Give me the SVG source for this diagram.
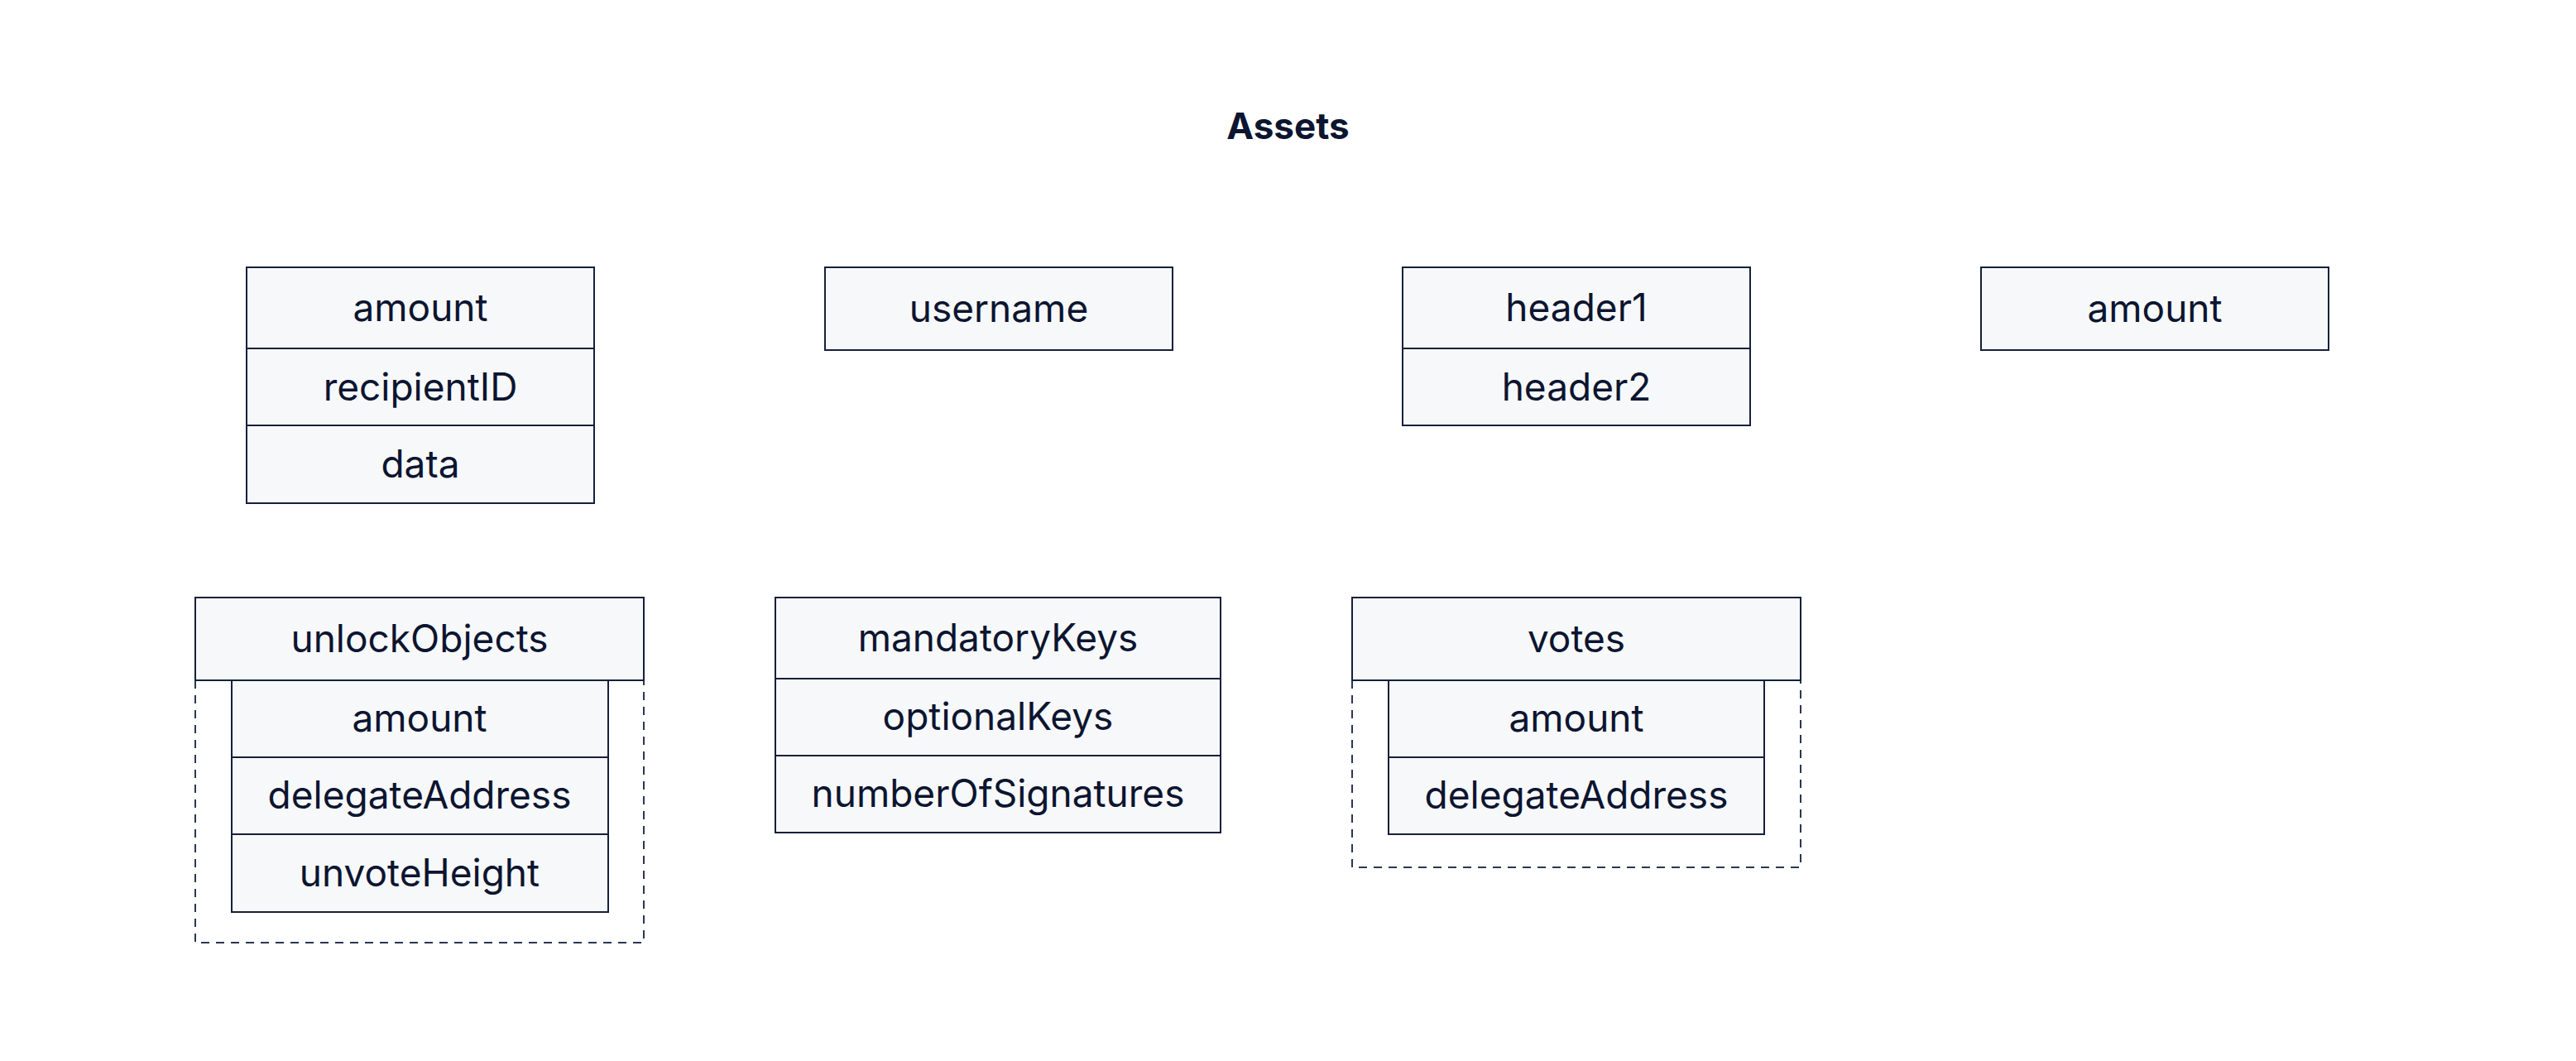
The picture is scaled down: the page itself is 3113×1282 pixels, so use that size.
<svg xmlns="http://www.w3.org/2000/svg" width="3113" height="1282" viewBox="0 0 3113 1282">
<style>
.cell{fill:#F7F8FA;stroke:#15203A;stroke-width:2}
.dash{fill:none;stroke:#2B3652;stroke-width:2;stroke-dasharray:10 8}
.t{font-family:Inter,"Noto Sans","Liberation Sans",sans-serif;font-size:46px;fill:#0C1530;text-anchor:middle}
.title{font-family:Inter,"Noto Sans","Liberation Sans",sans-serif;font-size:44px;font-weight:700;fill:#0C1530;text-anchor:middle}
</style>
<rect width="3113" height="1282" fill="#FFFFFF"/>
<text class="title" x="1556.5" y="168">Assets</text>
<g id="connectors"></g>
<g id="transfer">
<rect class="cell" x="298" y="323" width="420" height="98"/>
<rect class="cell" x="298" y="421" width="420" height="93"/>
<rect class="cell" x="298" y="514" width="420" height="94"/>
<text class="t" x="508" y="388">amount</text>
<text class="t" x="508" y="484">recipientID</text>
<text class="t" x="508" y="577">data</text>
</g>
<g id="username">
<rect class="cell" x="997" y="323" width="420" height="100"/>
<text class="t" x="1207" y="389">username</text>
</g>
<g id="headers">
<rect class="cell" x="1695" y="323" width="420" height="98"/>
<rect class="cell" x="1695" y="421" width="420" height="93"/>
<text class="t" x="1905" y="388">header1</text>
<text class="t" x="1905" y="484">header2</text>
</g>
<g id="amount2">
<rect class="cell" x="2394" y="323" width="420" height="100"/>
<text class="t" x="2604" y="389">amount</text>
</g>
<g id="unlockObjects">
<path class="dash" d="M236,822 V1139 H778 V822"/>
<rect class="cell" x="280" y="822" width="455" height="93"/>
<rect class="cell" x="280" y="915" width="455" height="93"/>
<rect class="cell" x="280" y="1008" width="455" height="94"/>
<rect class="cell" x="236" y="722" width="542" height="100"/>
<text class="t" x="507" y="788">unlockObjects</text>
<text class="t" x="507" y="884">amount</text>
<text class="t" x="507" y="977">delegateAddress</text>
<text class="t" x="507" y="1071">unvoteHeight</text>
</g>
<g id="multisig">
<rect class="cell" x="937" y="722" width="538" height="98"/>
<rect class="cell" x="937" y="820" width="538" height="93"/>
<rect class="cell" x="937" y="913" width="538" height="93"/>
<text class="t" x="1206" y="787">mandatoryKeys</text>
<text class="t" x="1206" y="882">optionalKeys</text>
<text class="t" x="1206" y="975">numberOfSignatures</text>
</g>
<g id="votes">
<path class="dash" d="M1634,822 V1048 H2176 V822"/>
<rect class="cell" x="1678" y="822" width="454" height="93"/>
<rect class="cell" x="1678" y="915" width="454" height="93"/>
<rect class="cell" x="1634" y="722" width="542" height="100"/>
<text class="t" x="1905" y="788">votes</text>
<text class="t" x="1905" y="884">amount</text>
<text class="t" x="1905" y="977">delegateAddress</text>
</g>
</svg>
